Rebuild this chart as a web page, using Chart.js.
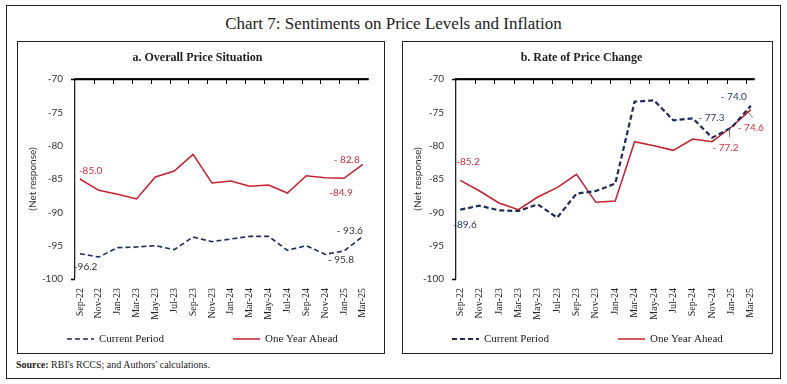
<!DOCTYPE html>
<html>
<head>
<meta charset="utf-8">
<script src="https://cdn.jsdelivr.net/npm/chart.js@4.4.1/dist/chart.umd.min.js"></script>
<style>
  body { margin: 0; width: 787px; height: 384px; background: #fff; position: relative; overflow: hidden; }
  #frame { position: absolute; left: 6px; top: 5px; width: 775px; height: 374px; border: 1px solid #222; box-sizing: border-box; }
  #title { position: absolute; left: 0; width: 787px; top: 14px; text-align: center; font-family: "Liberation Serif", serif; font-size: 17px; color: #222; }
  .panel { position: absolute; top: 41px; height: 313px; border: 1px solid #222; box-sizing: border-box; }
  .panel canvas { display: block; }
  #p1 { left: 17px; width: 368px; }
  #p2 { left: 402px; width: 371px; }
  #source { position: absolute; left: 16px; top: 359px; font-family: "Liberation Serif", serif; font-size: 10px; color: #222; }
</style>
</head>
<body>
<div id="frame"></div>
<div id="title">Chart 7: Sentiments on Price Levels and Inflation</div>
<div class="panel" id="p1"><canvas id="overall" width="366" height="311"></canvas></div>
<div class="panel" id="p2"><canvas id="rate" width="369" height="311"></canvas></div>
<div id="source"><b>Source:</b> RBI's RCCS; and Authors' calculations.</div>

<script>
// survey rounds on the x axis
const months = ['Sep-22', 'Nov-22', 'Jan-23', 'Mar-23', 'May-23', 'Jul-23', 'Sep-23', 'Nov-23',
                'Jan-24', 'Mar-24', 'May-24', 'Jul-24', 'Sep-24', 'Nov-24', 'Jan-25', 'Mar-25'];
const yTickValues = [-100, -95, -90, -85, -80, -75, -70];

// a. Overall Price Situation (net response)
const overallCurrent = [-96.2, -96.7, -95.3, -95.2, -95.0, -95.6, -93.7, -94.4,
                        -94.0, -93.6, -93.6, -95.7, -95.0, -96.3, -95.8, -93.6];
const overallAhead = [-85.0, -86.7, -87.3, -88.0, -84.7, -83.8, -81.3, -85.6,
                      -85.3, -86.1, -85.9, -87.1, -84.5, -84.8, -84.9, -82.8];

// b. Rate of Price Change (net response)
const rateCurrent = [-89.6, -89.0, -89.7, -89.8, -88.8, -90.8, -87.2, -86.8,
                     -85.7, -73.4, -73.2, -76.2, -75.9, -78.8, -77.3, -74.0];
const rateAhead = [-85.2, -86.8, -88.6, -89.6, -87.7, -86.3, -84.3, -88.5,
                   -88.3, -79.4, -80.0, -80.7, -79.0, -79.4, -77.2, -74.6];

const NAVY = '#1f2a5c';
const RED = '#c8202f';
const LABEL_RED = '#d0303f';

// small tick marks hanging from the top axis line, plus the end tick at -100
const topAxis = {
    id: 'topAxis',
    afterDraw(chart) {
        const ctx = chart.ctx;
        const area = chart.chartArea;
        const xs = chart.scales.x;
        const ys = chart.scales.y;
        const top = Math.round(ys.getPixelForValue(-70)) + 0.5;
        const bottom = Math.round(ys.getPixelForValue(-100)) + 0.5;
        ctx.save();
        ctx.strokeStyle = '#000';
        ctx.lineWidth = 1.5;
        ctx.beginPath();
        ctx.moveTo(area.left - 4, top);
        ctx.lineTo(area.right, top);
        ctx.moveTo(area.left - 4, bottom);
        ctx.lineTo(area.left, bottom);
        ctx.stroke();
        ctx.lineWidth = 1;
        ctx.beginPath();
        for (let i = 0; i < months.length - 1; i++) {
            const x = Math.round(xs.getPixelForValue(i + 0.75)) + 0.5;
            ctx.moveTo(x, top);
            ctx.lineTo(x, top + 4.5);
        }
        ctx.stroke();
        ctx.restore();
    }
};

// draws the few value labels shown on the lines
const valueLabels = {
    id: 'valueLabels',
    afterDatasetsDraw(chart, args, opts) {
        const ctx = chart.ctx;
        opts.items.forEach(function (it) {
            const pt = chart.getDatasetMeta(it.ds).data[it.i];
            const v = chart.data.datasets[it.ds].data[it.i].y;
            const txt = (it.gap ? '- ' : '-') + Math.abs(v).toFixed(1);
            ctx.save();
            if (it.leader) {
                ctx.strokeStyle = '#555';
                ctx.lineWidth = 0.8;
                ctx.beginPath();
                ctx.moveTo(pt.x + it.leader[0], pt.y + it.leader[1]);
                ctx.lineTo(pt.x + it.leader[2], pt.y + it.leader[3]);
                ctx.stroke();
            }
            ctx.font = '10px Lato';
            ctx.fillStyle = it.color;
            ctx.textAlign = it.align;
            ctx.textBaseline = 'middle';
            ctx.fillText(txt, pt.x + it.dx, pt.y + it.dy);
            ctx.restore();
        });
    }
};

// legend drawn under the month labels
const seriesKey = {
    id: 'seriesKey',
    afterDraw(chart, args, opts) {
        const ctx = chart.ctx;
        chart.data.datasets.forEach(function (ds, k) {
            const x = opts.xs[k];
            ctx.save();
            ctx.strokeStyle = ds.borderColor;
            ctx.lineWidth = ds.borderWidth;
            ctx.setLineDash(ds.borderDash || []);
            ctx.beginPath();
            ctx.moveTo(x, opts.y);
            ctx.lineTo(x + 27, opts.y);
            ctx.stroke();
            ctx.setLineDash([]);
            ctx.font = '11px "Liberation Serif"';
            ctx.fillStyle = '#222';
            ctx.textBaseline = 'middle';
            ctx.fillText(ds.label, x + 32, opts.y);
            ctx.restore();
        });
    }
};

function makeChart(id, current, ahead, o) {
    const ctx = document.getElementById(id).getContext('2d');
    return new Chart(ctx, {
        type: 'line',
        data: {
            datasets: [
                {
                    label: 'Current Period',
                    data: current.map((v, i) => ({ x: i, y: v })),
                    borderColor: NAVY,
                    borderWidth: o.dashWidth,
                    borderDash: [5, 3],
                    pointRadius: 0,
                    tension: 0,
                },
                {
                    label: 'One Year Ahead',
                    data: ahead.map((v, i) => ({ x: i, y: v })),
                    borderColor: RED,
                    borderWidth: 1.5,
                    pointRadius: 0,
                    tension: 0,
                },
            ],
        },
        options: {
            responsive: false,
            animation: false,
            devicePixelRatio: 1,
            layout: { padding: { left: 0, right: o.rightPad, top: 0, bottom: 0 } },
            plugins: {
                legend: { display: false },
                tooltip: { enabled: false },
                title: {
                    display: true,
                    text: o.title,
                    color: '#222',
                    font: { family: 'Liberation Serif', size: 12, weight: 'bold' },
                    padding: { top: 9, bottom: 13.6 },
                },
                topAxis: {},
                valueLabels: { items: o.labels },
                seriesKey: { xs: [49, 215], y: 297 },
            },
            scales: {
                x: {
                    type: 'linear',
                    position: 'bottom',
                    min: o.xMin,
                    max: o.xMax,
                    afterBuildTicks: s => { s.ticks = months.map((m, i) => ({ value: i })); },
                    afterFit: s => { s.height = 74; },
                    ticks: {
                        autoSkip: false,
                        minRotation: 90,
                        maxRotation: 90,
                        padding: 9,
                        color: '#222',
                        font: { family: 'Liberation Serif', size: 10 },
                        callback: v => months[v],
                    },
                    grid: { display: false, drawTicks: false },
                    border: { display: false },
                },
                y: {
                    min: -100,
                    max: -70,
                    afterBuildTicks: s => { s.ticks = yTickValues.map(v => ({ value: v })); },
                    afterFit: s => { s.width = o.axisLeft; },
                    ticks: { color: '#333', padding: 12, font: { family: 'Lato', size: 10 } },
                    grid: {
                        drawTicks: false,
                        lineWidth: 1.3,
                        color: c => (c.tick && c.tick.value === -70) ? '#222' : 'rgba(0,0,0,0)',
                    },
                    border: { color: '#222', width: 1.3 },
                    title: {
                        display: true,
                        text: '(Net response)',
                        color: '#333',
                        font: { family: 'Lato', size: 10 },
                        padding: { top: 9, bottom: 0 },
                    },
                },
            },
        },
        plugins: [topAxis, valueLabels, seriesKey],
    });
}

makeChart('overall', overallCurrent, overallAhead, {
    title: 'a. Overall Price Situation',
    axisLeft: 57,
    rightPad: 7,
    xMin: -0.26,
    xMax: 15.31,
    dashWidth: 1.6,
    labels: [
        { ds: 1, i: 0, align: 'left', dx: -1, dy: -8, color: LABEL_RED },
        { ds: 1, i: 14, align: 'center', dx: -3, dy: 14, color: LABEL_RED },
        { ds: 1, i: 15, align: 'right', dx: -3, dy: -5, color: LABEL_RED, gap: true },
        { ds: 0, i: 0, align: 'left', dx: -6, dy: 13, color: '#333' },
        { ds: 0, i: 14, align: 'center', dx: -3, dy: 9, color: '#333', gap: true },
        { ds: 0, i: 15, align: 'right', dx: 0, dy: -6, color: '#333', gap: true },
    ],
});

makeChart('rate', rateCurrent, rateAhead, {
    title: 'b. Rate of Price Change',
    axisLeft: 53,
    rightPad: 12,
    xMin: -0.22,
    xMax: 15.2,
    dashWidth: 2.2,
    labels: [
        { ds: 1, i: 0, align: 'left', dx: -4, dy: -19, color: LABEL_RED },
        { ds: 0, i: 0, align: 'left', dx: -7, dy: 15, color: NAVY },
        { ds: 0, i: 14, align: 'right', dx: -7, dy: -10, color: '#2c3a66', gap: true },
        { ds: 0, i: 15, align: 'right', dx: -4, dy: -9, color: '#2c3a66', gap: true },
        { ds: 1, i: 15, align: 'left', dx: -13, dy: 18, color: LABEL_RED, gap: true, leader: [-4, 1, 2, 8] },
        { ds: 1, i: 14, align: 'center', dx: -6, dy: 21, color: LABEL_RED, gap: true, leader: [-2, 1, -2, 10] },
    ],
});
</script>
</body>
</html>
